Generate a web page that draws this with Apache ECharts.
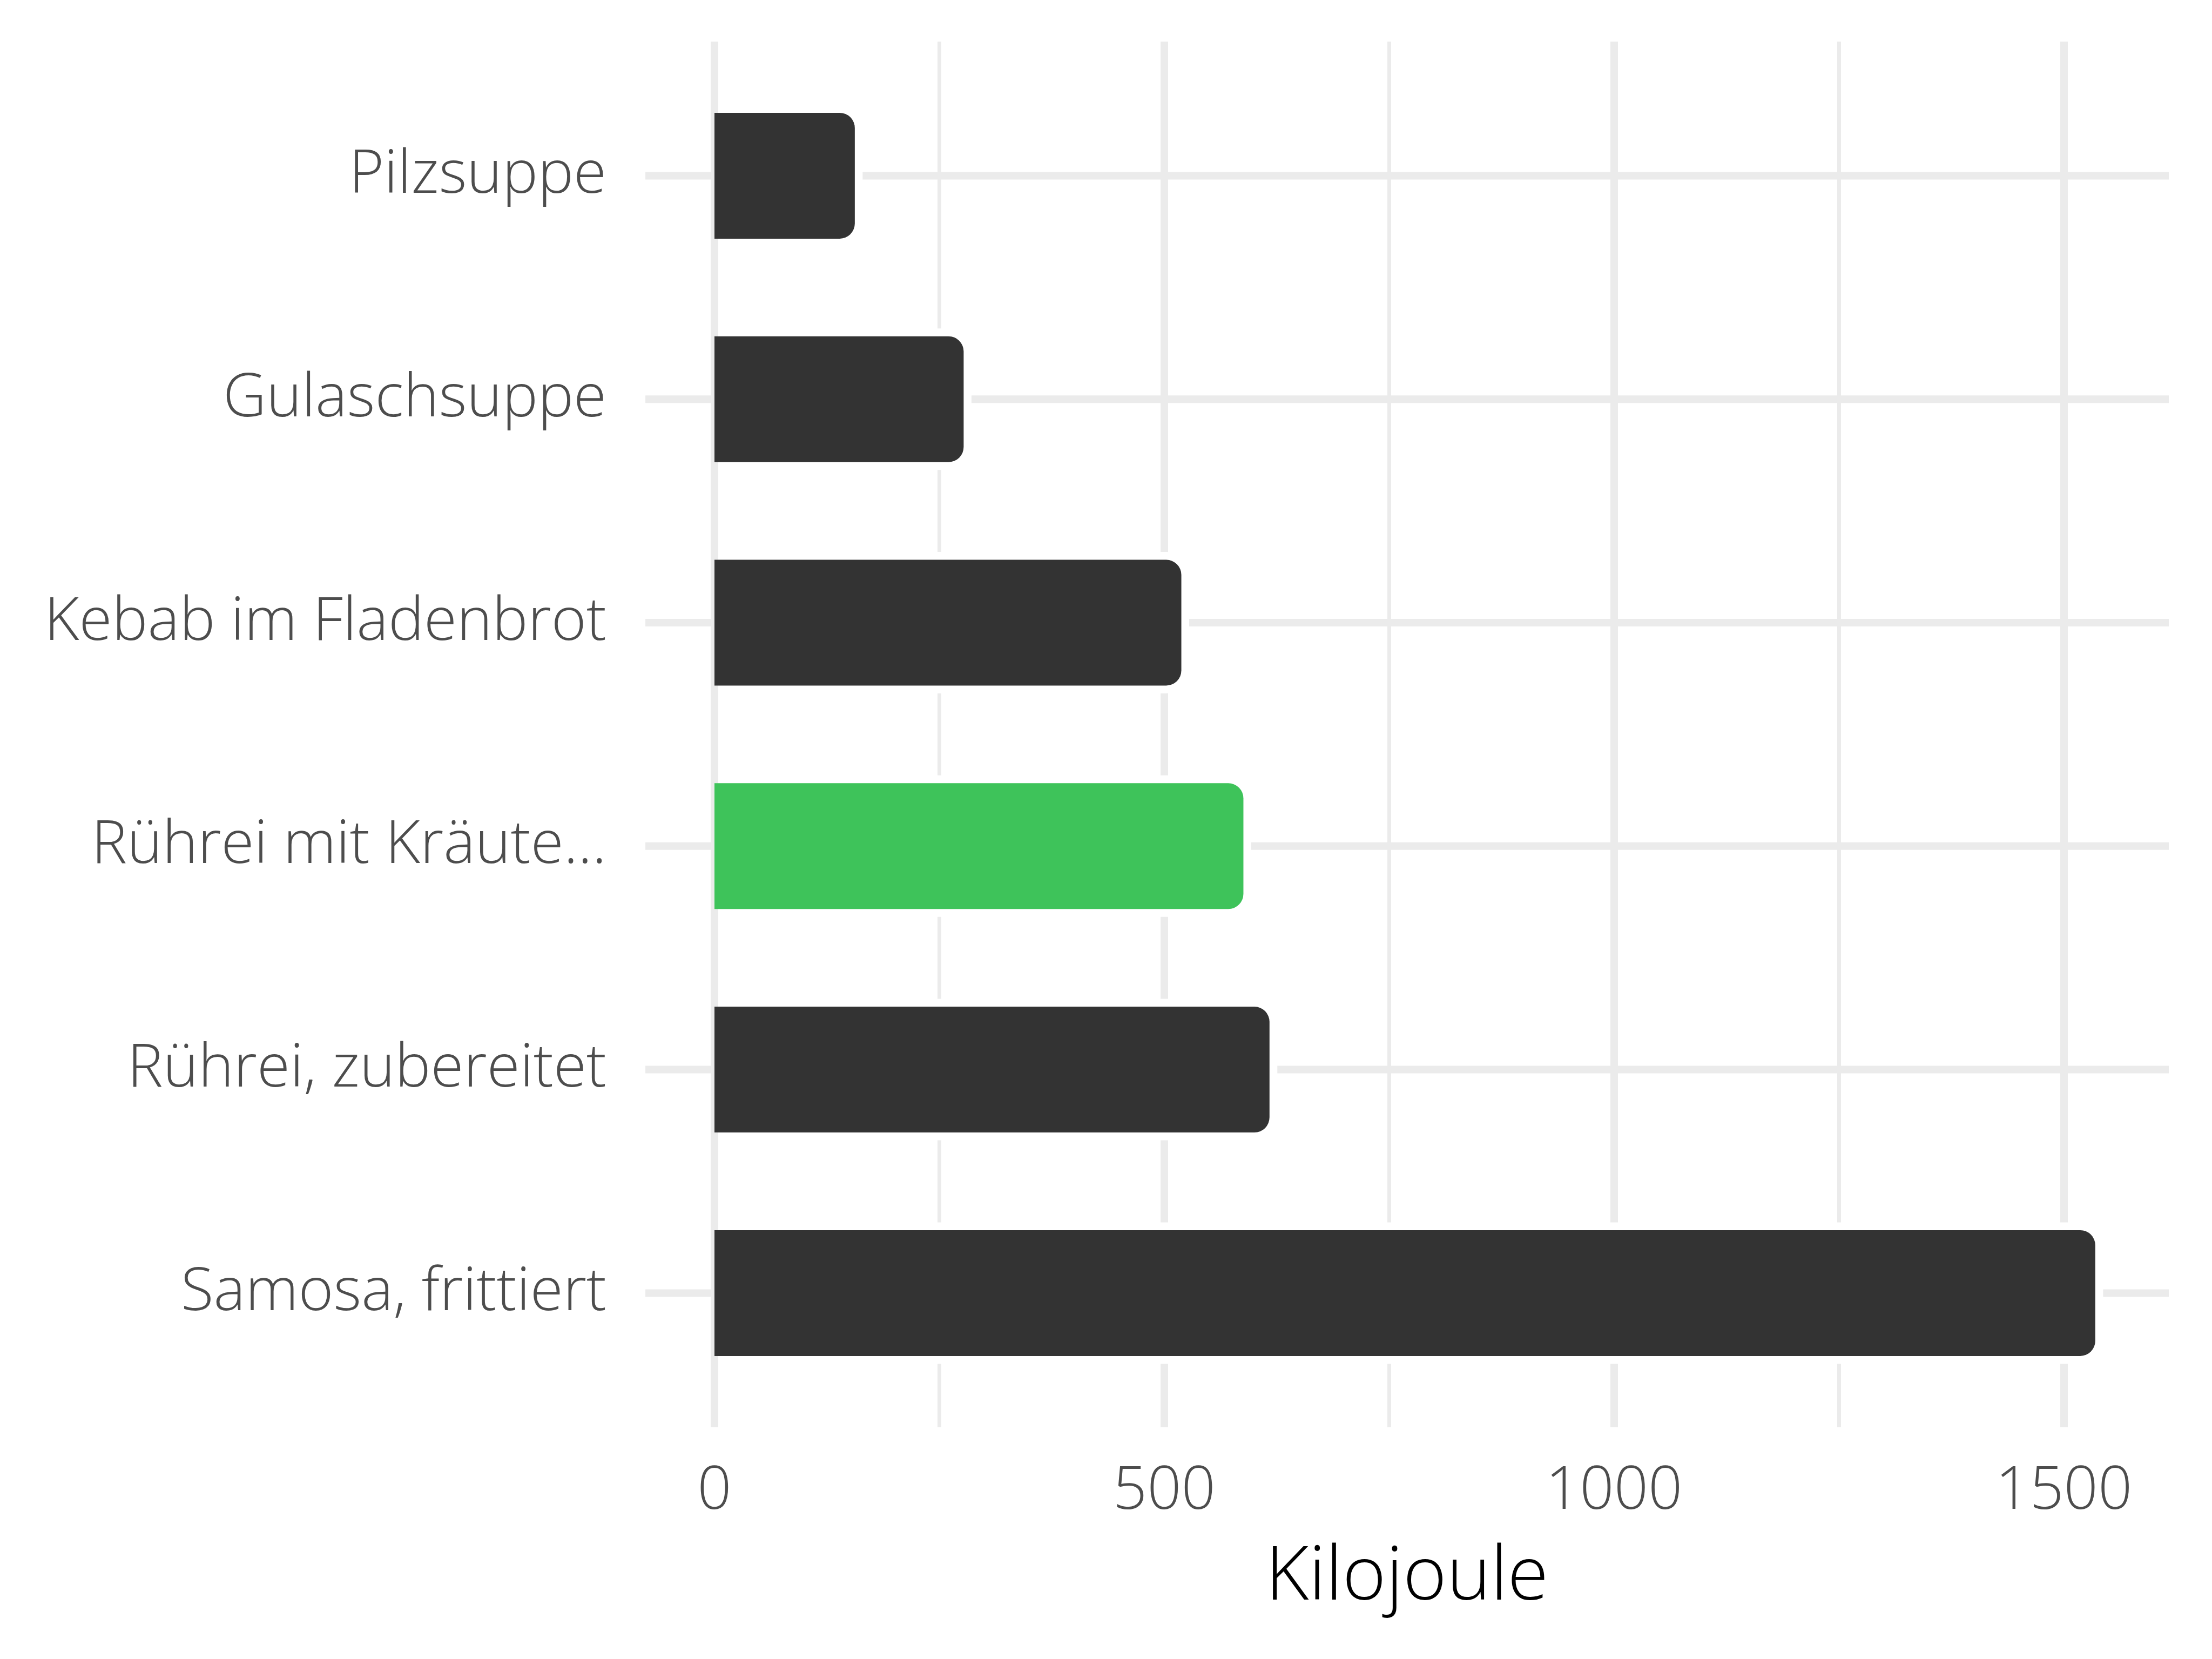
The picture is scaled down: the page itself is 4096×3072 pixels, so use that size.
<!DOCTYPE html>
<html>
<head>
<meta charset="utf-8">
<script src="https://cdn.jsdelivr.net/npm/echarts@6/dist/echarts.min.js"></script>
<style>
html,body{margin:0;padding:0;background:#fff;}
#chart{width:4096px;height:3072px;}
</style>
</head>
<body>
<div id="chart"></div>
<script>
// ---- data ----
const categories = ['Pilzsuppe', 'Gulaschsuppe', 'Kebab im Fladenbrot', 'Rührei mit Kräute...', 'Rührei, zubereitet', 'Samosa, frittiert'];
const values = [156, 277, 519, 588, 617, 1535];
const highlight = [false, false, false, true, false, false];
const xTicks = [0, 500, 1000, 1500];
const axisTitle = 'Kilojoule';

// ---- layout / style ----
const W = 4096, H = 3072;
const plotLeft = 1323, xAt1500 = 3821.6;
const panelTop = 77.1, panelBottom = 2642.6;
const bandTop = 118.5, bandBottom = 2601.3;
const panelMinVal = -76.8, panelMaxVal = 1616.7;   // panel expansion (axis padding)
const gridColor = '#EBEBEB';
const textColor = '#4D4D4D';
const barDark = '#333333', barGreen = '#3EC35A';
const FONT = '"Open Sans", "Noto Sans", sans-serif';
const barFrac = 0.563, radius = 28, gap = 14.5;

const chart = echarts.init(document.getElementById('chart'), null, {renderer: 'canvas'});

const barData = values.map((v, i) => [v, i, highlight[i] ? 1 : 0]);
const lineData = categories.map((c, i) => [i]);

const option = {
  backgroundColor: '#ffffff',
  animation: false,
  grid: [
    {left: plotLeft, right: W - xAt1500, top: bandTop, bottom: H - bandBottom, containLabel: false},
    {left: plotLeft, right: W - xAt1500, top: panelTop, bottom: H - panelBottom, containLabel: false}
  ],
  xAxis: [
    {gridIndex: 0, type: 'value', min: 0, max: 1500, interval: 500, show: false},
    {
      gridIndex: 1, type: 'value', min: 0, max: 1500, interval: 500,
      axisLine: {show: false}, axisTick: {show: false},
      axisLabel: {
        show: true, margin: 64, fontSize: 111, fontFamily: FONT, fontWeight: 300, color: textColor,
        formatter: v => (xTicks.indexOf(v) >= 0 ? String(v) : '')
      },
      splitLine: {show: true, lineStyle: {color: gridColor, width: 14}},
      minorTick: {show: false, splitNumber: 2},
      minorSplitLine: {show: true, lineStyle: {color: gridColor, width: 7}},
      name: axisTitle, nameLocation: 'middle', nameGap: 211,
      nameTextStyle: {fontSize: 138, fontFamily: FONT, fontWeight: 300, color: '#000000', padding: [0, 0, 0, 66]}
    }
  ],
  yAxis: [
    {
      gridIndex: 0, type: 'category', data: categories, inverse: true, boundaryGap: true,
      axisLine: {show: false}, axisTick: {show: false}, splitLine: {show: false},
      axisLabel: {margin: 200, fontSize: 111, fontFamily: FONT, fontWeight: 300, color: textColor, padding: [10, 0, 0, 0]}
    },
    {gridIndex: 1, type: 'value', min: 0, max: 1, show: false, splitLine: {show: false}}
  ],
  series: [
    {
      type: 'custom', xAxisIndex: 0, yAxisIndex: 0, z: 1, silent: true, clip: false,
      data: lineData,
      encode: {y: 0},
      renderItem: function (params, api) {
        const i = api.value(0);
        const a = api.coord([panelMinVal, i]);
        const b = api.coord([panelMaxVal, i]);
        return {
          type: 'line',
          shape: {x1: a[0], y1: a[1], x2: b[0], y2: b[1]},
          style: {stroke: gridColor, lineWidth: 14}
        };
      }
    },
    {
      type: 'custom', xAxisIndex: 0, yAxisIndex: 0, z: 2, clip: false,
      data: barData,
      encode: {x: 0, y: 1},
      renderItem: function (params, api) {
        const v = api.value(0), i = api.value(1), g = api.value(2);
        const p0 = api.coord([0, i]);
        const p1 = api.coord([v, i]);
        const h = api.size([0, 1])[1] * barFrac;
        const w = p1[0] - p0[0];
        return {
          type: 'group',
          children: [
            {
              type: 'rect',
              shape: {x: p0[0] + radius, y: p1[1] - h / 2 - gap, width: w - radius + gap, height: h + 2 * gap,
                      r: [0, radius + gap, radius + gap, 0]},
              style: {fill: '#ffffff'}
            },
            {
              type: 'rect',
              shape: {x: p0[0], y: p1[1] - h / 2, width: w, height: h, r: [0, radius, radius, 0]},
              style: {fill: g ? barGreen : barDark}
            }
          ]
        };
      }
    }
  ]
};
chart.setOption(option);
</script>
</body>
</html>
